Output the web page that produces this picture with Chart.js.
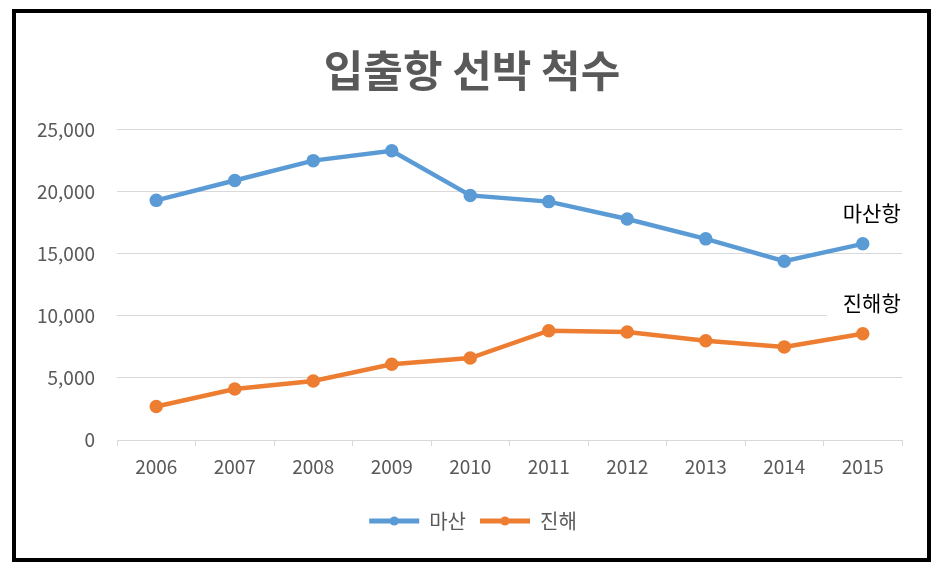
<!DOCTYPE html>
<html>
<head>
<meta charset="utf-8">
<script src="https://cdn.jsdelivr.net/npm/chart.js@4/dist/chart.umd.min.js"></script>
<style>
  html, body { margin: 0; padding: 0; background: #fff; }
  #wrap { position: relative; width: 937px; height: 568px; }
</style>
</head>
<body>
<div id="wrap"><canvas id="c" width="937" height="568"></canvas></div>
<script>
const years = ['2006','2007','2008','2009','2010','2011','2012','2013','2014','2015'];
const masan = [19300, 20900, 22500, 23300, 19700, 19200, 17800, 16200, 14400, 15800];
const jinhae = [2700, 4100, 4750, 6100, 6600, 8800, 8700, 8000, 7500, 8550];
const seriesNames = ['마산', '진해'];
const endLabels = ['마산항', '진해항'];
const titleText = '입출항 선박 척수';

const FONT = "'Noto Sans CJK KR', 'Noto Sans', sans-serif";
const GREY = '#595959';
const GRID = '#d9d9d9';

const frame = {
  id: 'frame',
  afterLayout(chart) {
    const shift = (box, dx) => { if (box) { box.left += dx; box.right += dx; } };
    shift(chart.legend, 22);
    shift(chart.titleBlock, 21);
  },
  beforeDraw(chart) {
    const ctx = chart.ctx;
    ctx.save();
    ctx.fillStyle = '#fff';
    ctx.fillRect(0, 0, chart.width, chart.height);
    ctx.restore();
  },
  afterDraw(chart) {
    const ctx = chart.ctx;
    ctx.save();
    ctx.strokeStyle = '#000';
    ctx.lineWidth = 4;
    ctx.strokeRect(14, 11, 915, 549);
    const lg = chart.legend;
    if (lg && lg.legendHitBoxes) {
      lg.legendHitBoxes.forEach((hb, i) => {
        const ds = chart.data.datasets[i];
        const bw = lg.options.labels.boxWidth;
        ctx.fillStyle = ds.borderColor;
        ctx.beginPath();
        ctx.arc(hb.left + bw / 2, hb.top + hb.height / 2, 4.5, 0, Math.PI * 2);
        ctx.fill();
      });
    }
    ctx.restore();
  }
};

const endLabelPlugin = {
  id: 'endLabels',
  beforeDatasetsDraw(chart) {
    const ctx = chart.ctx;
    ctx.save();
    ctx.font = "21px " + FONT;
    chart.data.datasets.forEach((ds, i) => {
      const meta = chart.getDatasetMeta(i);
      const pt = meta.data[meta.data.length - 1];
      const x = pt.x + 9, y = pt.y - 30;
      const w = ctx.measureText(endLabels[i]).width;
      ctx.fillStyle = '#fff';
      ctx.fillRect(x - w / 2 - 16, y - 15, w + 32, 30);
    });
    ctx.restore();
  },
  afterDatasetsDraw(chart) {
    const ctx = chart.ctx;
    ctx.save();
    ctx.font = "21px " + FONT;
    ctx.textAlign = 'center';
    ctx.textBaseline = 'middle';
    ctx.fillStyle = '#000';
    chart.data.datasets.forEach((ds, i) => {
      const meta = chart.getDatasetMeta(i);
      const pt = meta.data[meta.data.length - 1];
      ctx.fillText(endLabels[i], pt.x + 9, pt.y - 31);
    });
    ctx.restore();
  }
};

new Chart(document.getElementById('c'), {
  type: 'line',
  data: {
    labels: years,
    datasets: [
      { label: seriesNames[0], data: masan, borderColor: '#5B9BD5', backgroundColor: '#5B9BD5',
        pointBackgroundColor: '#5B9BD5', pointBorderColor: '#5B9BD5', borderWidth: 4.5, pointRadius: 4.5, tension: 0 },
      { label: seriesNames[1], data: jinhae, borderColor: '#ED7D31', backgroundColor: '#ED7D31',
        pointBackgroundColor: '#ED7D31', pointBorderColor: '#ED7D31', borderWidth: 4.5, pointRadius: 4.5, tension: 0 }
    ]
  },
  options: {
    responsive: false,
    animation: false,
    layout: { padding: { left: 0, right: 35, top: 0, bottom: 27 } },
    plugins: {
      title: {
        display: true, text: titleText, color: GREY,
        font: { family: FONT, size: 43, weight: 'bold' },
        padding: { top: 45, bottom: 33 }
      },
      legend: {
        display: true, position: 'bottom',
        labels: {
          boxWidth: 50, boxHeight: 5, color: GREY, padding: 14,
          font: { family: FONT, size: 20 },
          generateLabels(chart) {
            return chart.data.datasets.map((ds, i) => ({
              text: ds.label, fillStyle: ds.borderColor, strokeStyle: ds.borderColor,
              lineWidth: 0, datasetIndex: i, hidden: false, fontColor: GREY
            }));
          }
        }
      },
      tooltip: { enabled: false }
    },
    scales: {
      x: {
        offset: true,
        grid: { offset: true, drawOnChartArea: false, drawTicks: true, tickLength: 6, color: GRID },
        border: { display: true, color: GRID, width: 1 },
        afterFit(scale) { scale.height = 57; },
        ticks: { color: GREY, font: { family: FONT, size: 19 }, padding: 9, maxRotation: 0 }
      },
      y: {
        min: 0, max: 25000,
        grid: { color: GRID, drawTicks: false },
        border: { display: false },
        afterFit(scale) { scale.width = 117; },
        ticks: {
          stepSize: 5000, color: GREY, padding: 22,
          font: { family: FONT, size: 19 },
          callback: (v) => v.toLocaleString('en-US')
        }
      }
    }
  },
  plugins: [frame, endLabelPlugin]
});
</script>
</body>
</html>
